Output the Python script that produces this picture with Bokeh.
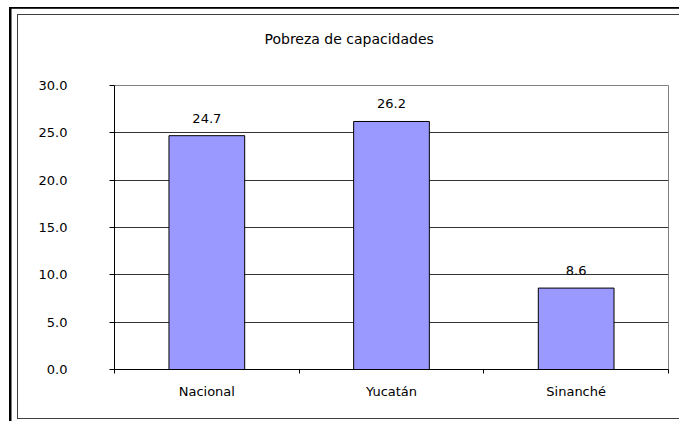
from bokeh.plotting import figure
from bokeh.models import (Range1d, FixedTicker, NumeralTickFormatter, LabelSet,
                          ColumnDataSource, Title)
from bokeh.core.properties import value
from bokeh.embed import file_html
from bokeh.resources import INLINE

# ---- data ----
categories = ["Nacional", "Yucatán", "Sinanché"]
values = [24.7, 26.2, 8.6]
value_labels = ["24.7", "26.2", "8.6"]
y_ticks = [0, 5, 10, 15, 20, 25, 30]
title_text = "Pobreza de capacidades"

FONT = "DejaVu Sans"
FS = "13px"
n = len(categories)
centers = [i + 0.5 for i in range(n)]
bounds = list(range(n + 1))

W, H = 679, 421
p = figure(width=W, height=H, output_backend="svg", toolbar_location=None,
           x_range=Range1d(0, n), y_range=Range1d(0, max(y_ticks)),
           min_border_left=114, min_border_right=11,
           min_border_top=85, min_border_bottom=52,
           title=title_text)
p.background_fill_color = "white"
p.border_fill_color = None
p.outline_line_color = "#808080"
p.outline_line_width = 1

# frames around the chart (drawn as page background behind the transparent border)
p.styles = {
    "background": (
        "linear-gradient(#000,#000) 9px 6.5px / 2.5px 600px no-repeat, "
        "linear-gradient(#000,#000) 9px 6.5px / 1000px 1.8px no-repeat, "
        "linear-gradient(#404040,#404040) 17px 14px / 1.4px 405px no-repeat, "
        "linear-gradient(#404040,#404040) 17px 14px / 1000px 1.4px no-repeat, "
        "linear-gradient(#404040,#404040) 17px 417.5px / 1000px 1.4px no-repeat, "
        "white"
    )
}

# title (outermost) with a blank spacer panel between it and the plot area
p.title.text_font = FONT
p.title.text_font_size = "14px"
p.title.text_font_style = "normal"
p.title.text_color = "black"
p.title.align = "left"
p.title.offset = 150
p.title.standoff = 10
p.add_layout(Title(text=" ", text_font=FONT, text_font_size="14px", standoff=16),
             "above")

# grid
p.xgrid.visible = False
p.ygrid.ticker = FixedTicker(ticks=y_ticks)
p.ygrid.grid_line_color = "#333333"
p.ygrid.grid_line_width = 1

# bars
src = ColumnDataSource(dict(x=centers, top=values, lab=value_labels, cat=categories))
p.vbar(x="x", top="top", width=0.41, source=src, fill_color="#9999FF",
       line_color="black", line_width=1)

labels = LabelSet(x="x", y="top", text="lab", source=src, text_align="center",
                  text_baseline="alphabetic", y_offset=13, text_font=value(FONT),
                  text_font_size=value(FS), text_color="black")
p.add_layout(labels)

# y axis
ya = p.yaxis[0]
ya.ticker = FixedTicker(ticks=y_ticks)
ya.formatter = NumeralTickFormatter(format="0.0")
ya.major_tick_in = 0
ya.major_tick_out = 5
ya.minor_tick_line_color = None
ya.axis_line_color = "black"
ya.major_tick_line_color = "black"
ya.major_label_text_font = FONT
ya.major_label_text_font_size = FS
ya.major_label_text_color = "black"
ya.major_label_standoff = 42

# x axis
xa = p.xaxis[0]
xa.ticker = FixedTicker(ticks=centers, minor_ticks=bounds)
xa.major_label_overrides = {c: name for c, name in zip(centers, categories)}
xa.major_tick_line_color = None
xa.major_tick_in = 0
xa.major_tick_out = 0
xa.minor_tick_in = 0
xa.minor_tick_out = 4
xa.minor_tick_line_color = "black"
xa.axis_line_color = "black"
xa.major_label_text_font = FONT
xa.major_label_text_font_size = FS
xa.major_label_text_color = "black"
xa.major_label_standoff = 10

open("out.html", "w").write(file_html(p, INLINE))
